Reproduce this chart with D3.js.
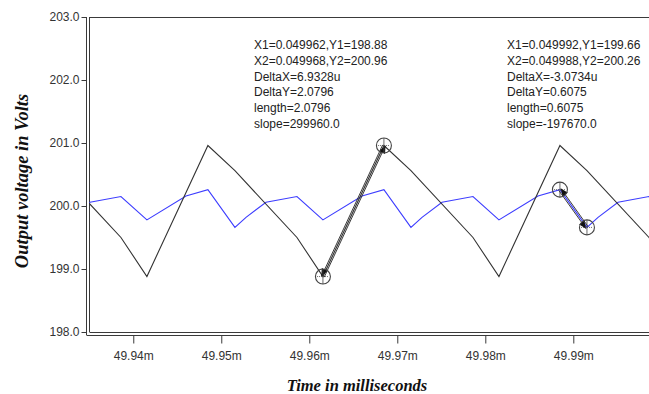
<!DOCTYPE html>
<html>
<head>
<meta charset="utf-8">
<script src="https://cdn.jsdelivr.net/npm/d3@7"></script>
<style>
  html, body { margin: 0; padding: 0; background: #fff; }
  svg { display: block; }
</style>
</head>
<body>
<svg id="chart" width="649" height="394"></svg>
<script>
// Time axis (ms) and voltage axis (V)
const xTicks = [49.94, 49.95, 49.96, 49.97, 49.98, 49.99];
const yTicks = [198, 199, 200, 201, 202, 203];

// Output voltage, black trace: vertex times (ms) and values (V)
const blackTime = [49.92848, 49.93155, 49.93860, 49.94155, 49.94848, 49.95155, 49.95860,
                   49.96155, 49.96848, 49.97155, 49.97860, 49.98155, 49.98848, 49.99155,
                   49.99860, 50.00155];
const blackVolt = [200.96, 200.56, 199.50, 198.88, 200.96, 200.56, 199.50,
                   198.88, 200.96, 200.56, 199.50, 198.88, 200.96, 200.56,
                   199.50, 198.88];

// Output voltage, blue trace
const blueTime = [49.93155, 49.93281, 49.93508, 49.93860, 49.94155, 49.94599, 49.94848,
                  49.95155, 49.95281, 49.95508, 49.95860, 49.96155, 49.96599, 49.96848,
                  49.97155, 49.97281, 49.97508, 49.97860, 49.98155, 49.98599, 49.98848,
                  49.99155, 49.99281, 49.99508, 49.99860, 50.00155];
const blueVolt = [199.66, 199.82, 200.06, 200.15, 199.78, 200.16, 200.26,
                  199.66, 199.82, 200.06, 200.15, 199.78, 200.16, 200.26,
                  199.66, 199.82, 200.06, 200.15, 199.78, 200.16, 200.26,
                  199.66, 199.82, 200.06, 200.15, 199.78];

// Cursor measurements: start / end points and their readouts
const cursorX1 = [49.96155, 49.99155];
const cursorY1 = [198.88, 199.66];
const cursorX2 = [49.96848, 49.98848];
const cursorY2 = [200.96, 200.26];
const readoutA = ["X1=0.049962,Y1=198.88", "X2=0.049968,Y2=200.96", "DeltaX=6.9328u",
                  "DeltaY=2.0796", "length=2.0796", "slope=299960.0"];
const readoutB = ["X1=0.049992,Y1=199.66", "X2=0.049988,Y2=200.26", "DeltaX=-3.0734u",
                  "DeltaY=0.6075", "length=0.6075", "slope=-197670.0"];

const svg = d3.select("#chart");
const plotL = 89, plotR = 649, plotT = 17, plotB = 332;

const x = d3.scaleLinear().domain([49.93497, 49.9986]).range([plotL, plotR]);
const y = d3.scaleLinear().domain([198, 203]).range([plotB, plotT]);

const axisColor = "#3a3a3a";
const sans = "'Liberation Sans', Arial, sans-serif";
const serif = "'Liberation Serif', 'Times New Roman', serif";

// arrowheads
const defs = svg.append("defs");
defs.append("marker").attr("id", "arrow").attr("viewBox", "0 0 10 10")
  .attr("refX", 9).attr("refY", 5).attr("markerWidth", 8).attr("markerHeight", 8)
  .attr("markerUnits", "userSpaceOnUse").attr("orient", "auto")
  .append("path").attr("d", "M0,1 L10,5 L0,9 Z").attr("fill", "#111");
defs.append("clipPath").attr("id", "plot")
  .append("rect").attr("x", plotL).attr("y", plotT).attr("width", plotR - plotL).attr("height", plotB - plotT);

// frame: double left and bottom rules, single top rule
const frame = svg.append("g").attr("stroke", axisColor).attr("stroke-width", 1).attr("fill", "none");
frame.append("line").attr("x1", 86.5).attr("x2", 86.5).attr("y1", plotT).attr("y2", plotB + 3);
frame.append("line").attr("x1", 89.5).attr("x2", 89.5).attr("y1", plotT).attr("y2", plotB);
frame.append("line").attr("x1", 89.5).attr("x2", plotR).attr("y1", plotT + 0.5).attr("y2", plotT + 0.5);
frame.append("line").attr("x1", 86.5).attr("x2", plotR).attr("y1", plotB + 3.5).attr("y2", plotB + 3.5);
frame.append("line").attr("x1", 89.5).attr("x2", plotR).attr("y1", plotB + 0.5).attr("y2", plotB + 0.5);

// y axis
const yAxis = d3.axisLeft(y).tickValues(yTicks).tickFormat(d3.format(".1f"))
  .tickSize(5).tickPadding(2);
const gy = svg.append("g").attr("transform", "translate(86.5,0)").call(yAxis);
gy.select(".domain").remove();
gy.selectAll(".tick line").attr("stroke", axisColor);
gy.selectAll(".tick text").attr("fill", "#333").attr("font-family", sans).attr("font-size", 12);

// x axis
const xAxis = d3.axisBottom(x).tickValues(xTicks).tickFormat(d => d3.format(".2f")(d) + "m")
  .tickSize(8).tickPadding(8);
const gx = svg.append("g").attr("transform", `translate(0,${plotB + 3.5})`).call(xAxis);
gx.select(".domain").remove();
gx.selectAll(".tick line").attr("stroke", axisColor);
gx.selectAll(".tick text").attr("fill", "#333").attr("font-family", sans).attr("font-size", 12);

// traces
const plot = svg.append("g").attr("clip-path", "url(#plot)");
const line = d3.line().x(d => x(d[0])).y(d => y(d[1]));
plot.append("path").datum(d3.zip(blueTime, blueVolt))
  .attr("d", line).attr("fill", "none").attr("stroke", "#3c3cff").attr("stroke-width", 1.1);
plot.append("path").datum(d3.zip(blackTime, blackVolt))
  .attr("d", line).attr("fill", "none").attr("stroke", "#333").attr("stroke-width", 1.1);

// cursor markers and measurement arrows
cursorX1.forEach((_, i) => {
  const p1 = [x(cursorX1[i]), y(cursorY1[i])];
  const p2 = [x(cursorX2[i]), y(cursorY2[i])];
  const dx = p2[0] - p1[0], dy = p2[1] - p1[1];
  const len = Math.hypot(dx, dy);
  const nx = -dy / len * 1.4, ny = dx / len * 1.4;
  const g = svg.append("g");
  g.append("line").attr("x1", p1[0] + nx).attr("y1", p1[1] + ny)
    .attr("x2", p2[0] + nx).attr("y2", p2[1] + ny)
    .attr("stroke", "#222").attr("stroke-width", 0.9).attr("marker-end", "url(#arrow)");
  g.append("line").attr("x1", p2[0] - nx).attr("y1", p2[1] - ny)
    .attr("x2", p1[0] - nx).attr("y2", p1[1] - ny)
    .attr("stroke", "#222").attr("stroke-width", 0.9).attr("marker-end", "url(#arrow)");
  [p1, p2].forEach(p => {
    const c = g.append("g").attr("transform", `translate(${p[0]},${p[1]})`)
      .attr("stroke", "#444").attr("fill", "none");
    c.append("circle").attr("r", 7.5).attr("stroke-width", 1.1);
    c.append("line").attr("x1", 0).attr("x2", 0).attr("y1", -7.5).attr("y2", 7.5).attr("stroke-width", 0.8);
    c.append("line").attr("x1", -6).attr("x2", 6).attr("y1", 0).attr("y2", 0)
      .attr("stroke-width", 0.8).attr("stroke-dasharray", "1,1");
  });
});

// readouts
[[readoutA, 254], [readoutB, 507]].forEach(([rows, tx]) => {
  svg.append("g").selectAll("text").data(rows).join("text")
    .attr("x", tx).attr("y", (d, i) => 49 + i * 15.8)
    .attr("font-family", sans).attr("font-size", 12).attr("fill", "#222")
    .text(d => d);
});

// axis titles
svg.append("text").attr("transform", "translate(28,181) rotate(-90)")
  .attr("text-anchor", "middle").attr("font-family", serif).attr("font-style", "italic")
  .attr("font-weight", "bold").attr("font-size", 18.5).attr("fill", "#111")
  .text("Output voltage in Volts");
svg.append("text").attr("x", 357).attr("y", 391)
  .attr("text-anchor", "middle").attr("font-family", serif).attr("font-style", "italic")
  .attr("font-weight", "bold").attr("font-size", 16.5).attr("fill", "#111")
  .text("Time in milliseconds");
</script>
</body>
</html>
